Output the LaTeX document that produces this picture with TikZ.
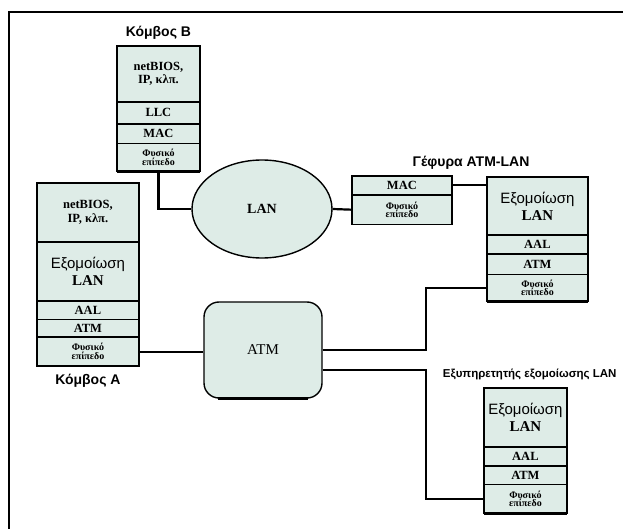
\documentclass[tikz,border=0pt]{standalone}
\usepackage{fontspec}
\setmainfont{Liberation Serif}
\setsansfont{Liberation Sans}
\usetikzlibrary{positioning, shapes.geometric}
\definecolor{boxfill}{RGB}{222,236,231}

\begin{document}
\begin{tikzpicture}[x=1pt, y=-1pt,
        layer/.style={draw=black, line width=0.8pt, fill=boxfill, inner sep=0pt, align=center, font=\bfseries\fontsize{12.5}{13.5}\selectfont},
        phys/.style={layer, font=\bfseries\fontsize{10}{8.5}\selectfont},
        emul/.style={layer, font=\sffamily\fontsize{15}{17}\selectfont},
        stackframe/.style={draw=black, line width=1.8pt},
        link/.style={line width=2.2pt},
        title/.style={font=\sffamily\bfseries\fontsize{14}{15}\selectfont},
        lannet/.style={ellipse, draw=black, line width=1.4pt, fill=boxfill, minimum width=140pt, minimum height=98pt, font=\bfseries\fontsize{14}{16}\selectfont},
        atmnet/.style={rectangle, rounded corners=15pt, draw=black, line width=1.4pt, fill=boxfill, minimum width=118pt, minimum height=96pt, font=\fontsize{15}{17}\selectfont}
    ]
    \useasboundingbox (0,0) rectangle (623,529);
    \draw[line width=2pt] (9,540) -- (9,12) -- (640,12);

    % Knoten B
    \begin{scope}[nodes={minimum width=82pt}]
        \node[layer, anchor=north west, minimum height=55pt] (b1) at (117,46) {netBIOS,\\IP, κλπ.};
        \node[layer, below=0pt of b1, minimum height=21pt] (b2) {LLC};
        \node[layer, below=0pt of b2, minimum height=19pt] (b3) {MAC};
        \node[phys, below=0pt of b3, minimum height=27pt] (b4) {Φυσικό\\επίπεδο};
    \end{scope}
    \draw[stackframe] (b1.north west) rectangle (b4.south east);
    \draw[line width=2.8pt] (b4.south west) -- (b4.south east);
    \node[title, above=3pt of b1] (tb) {Κόμβος Β};

    % Knoten A
    \begin{scope}[nodes={minimum width=101pt}]
        \node[layer, anchor=north west, minimum height=58pt] (a1) at (37,183) {netBIOS,\\IP, κλπ.};
        \node[emul, below=0pt of a1, minimum height=58pt] (a2) {Εξομοίωση\\{\rmfamily\bfseries LAN}};
        \node[layer, below=0pt of a2, minimum height=18pt] (a3) {AAL};
        \node[layer, below=0pt of a3, minimum height=17pt] (a4) {ATM};
        \node[phys, below=0pt of a4, minimum height=28pt] (a5) {Φυσικό\\επίπεδο};
    \end{scope}
    \draw[stackframe] (a1.north west) rectangle (a5.south east);
    \draw[line width=2.8pt] (a5.south west) -- (a5.south east);
    \node[title, below=5pt of a5] (ta) {Κόμβος Α};

    % Netze
    \node[lannet] (lan) at (262,209) {LAN};
    \node[atmnet] (atm) at (263,350) {ATM};
    \draw[line width=2.8pt] ([xshift=15pt]atm.south west) -- ([xshift=-15pt]atm.south east);

    % Gateway
    \begin{scope}[nodes={minimum width=99pt}]
        \node[layer, anchor=north west, minimum height=18pt] (g1) at (352,176) {MAC};
        \node[phys, below=0pt of g1, minimum height=29pt] (g2) {Φυσικό\\επίπεδο};
    \end{scope}
    \draw[stackframe] (g1.north west) rectangle (g2.south east);
    \begin{scope}[nodes={minimum width=100pt}]
        \node[emul, anchor=north west, minimum height=57pt] (e1) at (487,177) {Εξομοίωση\\{\rmfamily\bfseries LAN}};
        \node[layer, below=0pt of e1, minimum height=18pt] (e2) {AAL};
        \node[layer, below=0pt of e2, minimum height=20pt] (e3) {ATM};
        \node[phys, below=0pt of e3, minimum height=26pt] (e4) {Φυσικό\\επίπεδο};
    \end{scope}
    \draw[stackframe] (e1.north west) rectangle (e4.south east);
    \draw[line width=2.8pt] (e4.south west) -- (e4.south east);
    \node[title] (tg) at (471,163) {Γέφυρα ATM-LAN};

    % Server
    \begin{scope}[nodes={minimum width=82pt}]
        \node[emul, anchor=north west, minimum height=58pt] (s1) at (484,388) {Εξομοίωση\\{\rmfamily\bfseries LAN}};
        \node[layer, below=0pt of s1, minimum height=18pt] (s2) {AAL};
        \node[layer, below=0pt of s2, minimum height=18pt] (s3) {ATM};
        \node[phys, below=0pt of s3, minimum height=28pt] (s4) {Φυσικό\\επίπεδο};
    \end{scope}
    \draw[stackframe] (s1.north west) rectangle (s4.south east);
    \draw[line width=2.8pt] (s4.south west) -- (s4.south east);
    \node[title, anchor=east, font=\sffamily\bfseries\fontsize{11.5}{13}\selectfont] (ts) at (620,374) {Εξυπηρετητής εξομοίωσης LAN};

    % Kanten
    \draw[link] (b4.south) |- (lan.west);
    \draw[link] (lan.east) -- (g2.west);
    \draw[link] (g1.east) -- (g1.east -| e1.west);
    \draw[link] (a5.east) -- (a5.east -| atm.west);
    \draw[link] (atm.east) -- ++(103,0) |- (e4.west);
    \draw[link] ([yshift=-20pt]atm.east) -- ++(103,0) |- (s4.west);

\end{tikzpicture}
\end{document}
